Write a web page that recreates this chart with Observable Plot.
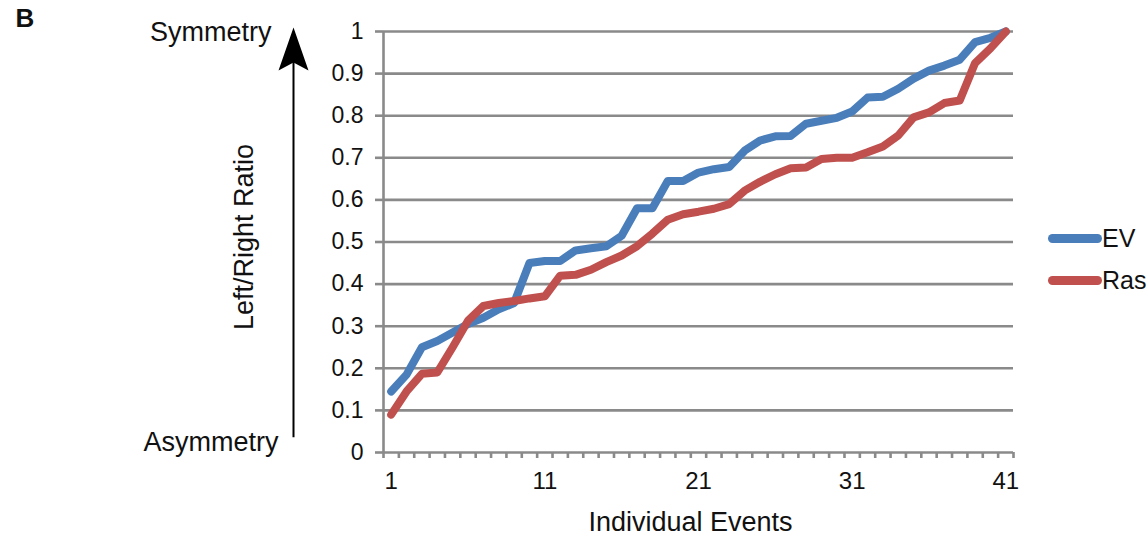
<!DOCTYPE html>
<html>
<head>
<meta charset="utf-8">
<script src="https://cdn.jsdelivr.net/npm/d3@7"></script>
<script src="https://cdn.jsdelivr.net/npm/@observablehq/plot@0.6"></script>
<style>
  html, body { margin: 0; padding: 0; background: #fff; }
  #wrap { position: relative; width: 1148px; height: 542px; font-family: "Liberation Sans", Arial, sans-serif; }
  .legend { position: absolute; left: 1048px; top: 0; font-family: "Liberation Sans", Arial, sans-serif; font-size: 25px; color: #111; }
  .legend .item { position: absolute; left: 0; display: flex; align-items: center; white-space: nowrap; line-height: 30px; }
  .legend .sw { width: 54px; height: 9px; border-radius: 4.5px; margin-right: 0px; }
</style>
</head>
<body>
<div id="wrap"></div>
<script>
// ---- data ----
const events = d3.range(1, 42);
const evValues = [0.145, 0.185, 0.25, 0.265, 0.285, 0.305, 0.32, 0.34, 0.355, 0.45,
  0.455, 0.455, 0.48, 0.485, 0.49, 0.515, 0.58, 0.58, 0.645, 0.645,
  0.665, 0.673, 0.678, 0.717, 0.741, 0.751, 0.752, 0.781, 0.788, 0.795,
  0.81, 0.843, 0.845, 0.864, 0.888, 0.907, 0.919, 0.933, 0.975, 0.985, 1.0];
const rasValues = [0.09, 0.145, 0.187, 0.19, 0.25, 0.313, 0.348, 0.355, 0.36, 0.366,
  0.371, 0.42, 0.422, 0.434, 0.452, 0.468, 0.49, 0.52, 0.553, 0.566,
  0.572, 0.579, 0.59, 0.622, 0.643, 0.661, 0.675, 0.677, 0.697, 0.70,
  0.70, 0.713, 0.727, 0.753, 0.796, 0.808, 0.83, 0.836, 0.925, 0.96, 1.0];
const seriesNames = ["EV", "Ras"];
const seriesColors = ["#4A7EBB", "#C0504D"];
const yTicks = [0, 0.1, 0.2, 0.3, 0.4, 0.5, 0.6, 0.7, 0.8, 0.9, 1];
const yTickLabels = ["0", "0.1", "0.2", "0.3", "0.4", "0.5", "0.6", "0.7", "0.8", "0.9", "1"];
const xTicks = [1, 11, 21, 31, 41];

const rows = [];
events.forEach((e, i) => {
  rows.push({event: e, series: "EV", value: evValues[i]});
  rows.push({event: e, series: "Ras", value: rasValues[i]});
});
const xBounds = d3.range(0.5, events.length + 1, 1);
const grid = "#8a8a8a";

// stealth arrowhead symbol (tip at origin)
const arrowHead = {
  draw(ctx) {
    ctx.moveTo(0, 0);
    ctx.lineTo(15, 43);
    ctx.lineTo(0, 35);
    ctx.lineTo(-15, 43);
    ctx.closePath();
  }
};

const chart = Plot.plot({
  width: 1148,
  height: 542,
  marginLeft: 383,
  marginRight: 135,
  marginTop: 31,
  marginBottom: 90,
  style: {fontFamily: "'Liberation Sans', Arial, sans-serif", fontSize: "22px", color: "#111", background: "#fff"},
  x: {domain: [0.5, events.length + 0.5], label: null},
  y: {domain: [0, 1], label: null},
  color: {domain: seriesNames, range: seriesColors},
  marks: [
    Plot.ruleY(yTicks.filter(d => d > 0), {stroke: grid, strokeWidth: 2.6}),
    Plot.ruleX([0.5], {stroke: grid, strokeWidth: 2.6}),
    Plot.ruleY([0], {stroke: grid, strokeWidth: 2.6}),
    Plot.axisY({ticks: yTicks, tickSize: 8, tickPadding: 12, stroke: grid, strokeWidth: 2.6, label: null,
      tickFormat: (d) => yTickLabels[yTicks.indexOf(d)], fontSize: 23, fill: "#111"}),
    Plot.axisX({ticks: xBounds, tickSize: 6, tickFormat: () => "", stroke: grid, strokeWidth: 2.6, label: null}),
    Plot.axisX({ticks: xTicks, tickSize: 0, tickPadding: 19, fontSize: 24, fill: "#111", label: null}),
    Plot.lineY(rows, {x: "event", y: "value", z: "series", stroke: "series",
      strokeWidth: 8, strokeLinejoin: "round", strokeLinecap: "round"}),
    // annotations
    Plot.text(["B"], {frameAnchor: "top-left", textAnchor: "start", lineAnchor: "middle", dx: -368, dy: -13, fontWeight: "bold", fontSize: 26}),
    Plot.text(["Symmetry"], {frameAnchor: "top-left", textAnchor: "end", lineAnchor: "middle", dx: -112, dy: 1, fontSize: 27}),
    Plot.text(["Asymmetry"], {frameAnchor: "bottom-left", textAnchor: "end", lineAnchor: "middle", dx: -105, dy: -10, fontSize: 27}),
    Plot.text(["Left/Right Ratio"], {frameAnchor: "left", textAnchor: "middle", lineAnchor: "middle", rotate: -90, dx: -139, dy: -5, fontSize: 27}),
    Plot.text(["Individual Events"], {frameAnchor: "bottom", lineAnchor: "middle", dx: -8, dy: 70, fontSize: 27}),
    Plot.ruleX([0.5], {y1: 0.035, y2: 0.93, dx: -90, stroke: "#000", strokeWidth: 2}),
    Plot.dot([1], {x: () => 0.5, y: (d) => d, dx: -90, dy: -4, r: 10, symbol: arrowHead, fill: "#000", stroke: "none"})
  ]
});

const wrap = document.getElementById("wrap");
wrap.appendChild(chart);

const legend = document.createElement("div");
legend.className = "legend";
const legendTops = [223, 265];
seriesNames.forEach((name, i) => {
  const item = document.createElement("div");
  item.className = "item";
  item.style.top = legendTops[i] + "px";
  const sw = document.createElement("div");
  sw.className = "sw";
  sw.style.background = seriesColors[i];
  const label = document.createElement("span");
  label.textContent = name;
  item.appendChild(sw);
  item.appendChild(label);
  legend.appendChild(item);
});
wrap.appendChild(legend);
</script>
</body>
</html>
